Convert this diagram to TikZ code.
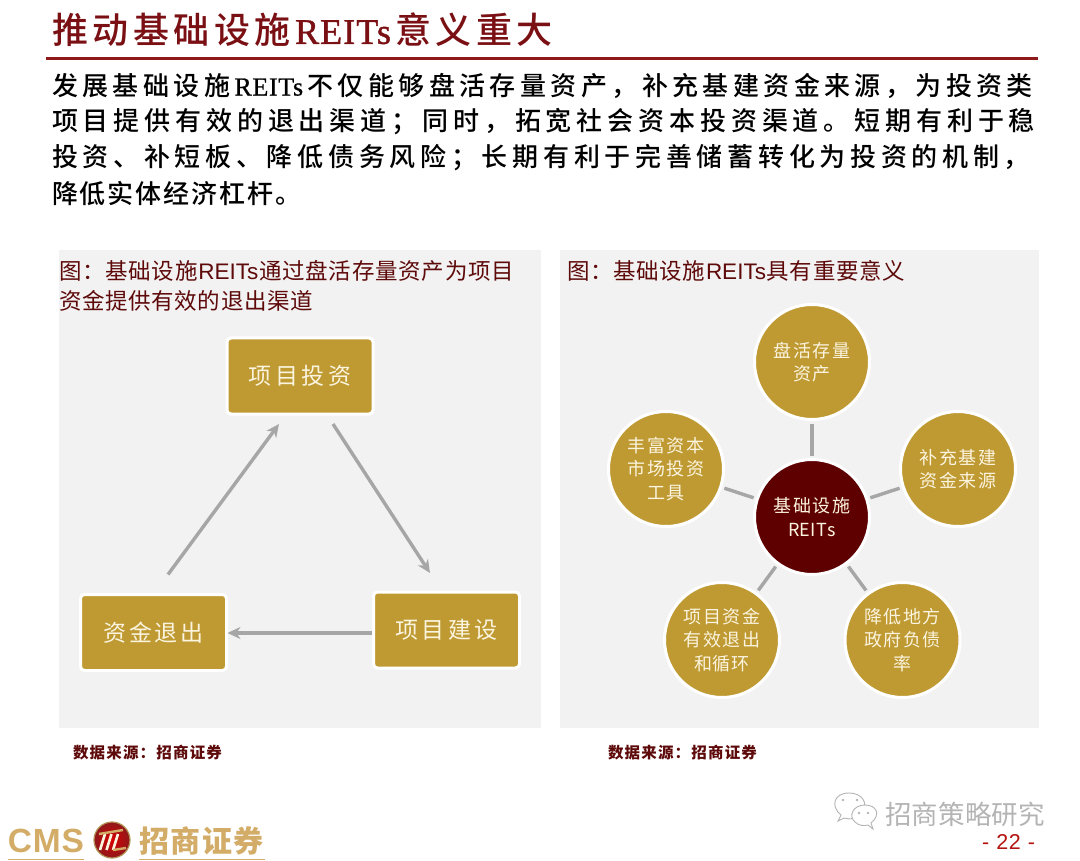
\documentclass[tikz,border=0pt]{standalone}
\usepackage{fontspec}
\usetikzlibrary{arrows.meta,shapes.geometric,calc}
\setmainfont{Liberation Sans}
\newfontfamily\cjk{Noto Sans CJK SC}
\newfontfamily\cjkm{Noto Sans CJK SC Medium}
\newfontfamily\serifLat[LetterSpace=2.5,FakeBold=0.8]{Liberation Serif}
\newfontfamily\serifLatT[LetterSpace=3,FakeBold=1.2]{Liberation Serif}
\newfontfamily\sansLat{Liberation Sans}
\let\spcstop\relax
\def\spc#1{#1\spcb}
\def\spcb#1{\ifx\spcstop#1\else\hfil#1\expandafter\spcb\fi}
\newcommand{\spread}[2]{\makebox[#1pt][s]{\spc #2\spcstop}}
\newcommand{\fs}[2]{\fontsize{#1}{#2}\selectfont}
\definecolor{gold}{HTML}{BF9A33}
\definecolor{maroon}{HTML}{5F0000}
\definecolor{titlered}{HTML}{7B1014}
\definecolor{rulered}{HTML}{8E1A1C}
\definecolor{panel}{HTML}{F2F2F2}
\definecolor{arrowgray}{HTML}{A6A6A6}
\definecolor{cream}{HTML}{FBF4DF}
\definecolor{paneltitle}{HTML}{5E0A0A}
\definecolor{logogold}{HTML}{D3AC68}
\definecolor{wm}{HTML}{B4B4B4}
\definecolor{pagered}{HTML}{B3140F}
\tikzset{
  txt/.style={inner sep=0pt,outer sep=0pt,anchor=west},
  titletxt/.style={txt,text=titlered,font={\cjkm\fs{36}{40}}},
  bodytxt/.style={txt,text=black,font={\cjkm\fs{26}{30}}},
  captxt/.style={txt,text=paneltitle,font={\cjk\fs{22.5}{26}}},
  srctxt/.style={txt,text=paneltitle,font={\cjk\bfseries\fs{15.5}{18}}},
  goldbox/.style={rectangle,rounded corners=4pt,fill=gold,draw=white,line width=3pt,
    minimum width=146pt,minimum height=76pt,inner sep=0pt,outer sep=0pt,text=cream,font={\cjk\fs{23}{26}}},
  goldcirc/.style={circle,fill=gold,draw=white,line width=3pt,minimum size=115pt,inner sep=0pt,outer sep=0pt,
    text=cream,align=center,font={\cjk\fs{18}{23.5}}},
  redcirc/.style={goldcirc,fill=maroon},
  flow/.style={draw=arrowgray,line width=3.4pt,-{Stealth[length=13pt,width=12pt]}},
  spoke/.style={draw=arrowgray,line width=3.4pt,shorten <=4pt,shorten >=4pt},
}
\begin{document}
\begin{tikzpicture}[x=1pt,y=-1pt]
\useasboundingbox (0,0) rectangle (1080,861);
\fill[white] (0,0) rectangle (1080,861);
% heading
\node[titletxt] (title) at (52,30) {\spread{501}{推动基础设施{{\serifLatT REITs}}意义重大}};
\coordinate (ruleL) at (46,59);
\coordinate (ruleR) at (1038,59);
\draw[rulered,line width=3pt] (ruleL) -- (ruleR);
\node[bodytxt] (l1) at (52,86) {\spread{981}{发展基础设施{{\serifLat REITs}}不仅能够盘活存量资产，补充基建资金来源，为投资类}};
\node[bodytxt] (l2) at (52,122) {\spread{983}{项目提供有效的退出渠道；同时，拓宽社会资本投资渠道。短期有利于稳}};
\node[bodytxt] (l3) at (52,158) {\spread{978}{投资、补短板、降低债务风险；长期有利于完善储蓄转化为投资的机制，}};
\node[bodytxt] (l4) at (52,194) {\spread{250}{降低实体经济杠杆。}};
% panels
\fill[panel] (59,250) rectangle (541,728);
\fill[panel] (560,250) rectangle (1039,728);
\node[captxt] (c1a) at (59,271) {\spread{455}{图：基础设施{{\sansLat REITs}}通过盘活存量资产为项目}};
\node[captxt] (c1b) at (59,301) {\spread{254}{资金提供有效的退出渠道}};
\node[captxt] (c2) at (567,271) {\spread{338}{图：基础设施{{\sansLat REITs}}具有重要意义}};
\node[srctxt] (s1) at (73,753) {\spread{149}{数据来源：招商证券}};
\node[srctxt] (s2) at (608,753) {\spread{149}{数据来源：招商证券}};
% left cycle
\node[goldbox] (tz) at (300,376) {\spread{103}{项目投资}};
\node[goldbox] (js) at (446.5,630) {\spread{102}{项目建设}};
\node[goldbox] (tc) at (153.5,632.5) {\spread{100}{资金退出}};
\draw[flow] ([shift={(14.5,-20)}]tc.north) -- ([shift={(-21,10)}]tz.south);
\draw[flow] ([shift={(33,10)}]tz.south) -- ([shift={(-16.5,-19)}]js.north);
\draw[flow] ([shift={(-2,3)}]js.west) -- ([shift={(1,0.5)}]tc.east);
% right hub
\node[redcirc] (hub) at (812,517) {\spread{77}{基础设施}\\\spread{48}{REITs}};
\node[goldcirc] (n1) at (812,362) {\spread{77}{盘活存量}\\\spread{37}{资产}};
\node[goldcirc] (n2) at (958,469) {\spread{77}{补充基建}\\\spread{77}{资金来源}};
\node[goldcirc] (n3) at (902.5,640) {\spread{77}{降低地方}\\\spread{77}{政府负债}\\率};
\node[goldcirc] (n4) at (722,640) {\spread{77}{项目资金}\\\spread{77}{有效退出}\\\spread{55}{和循环}};
\node[goldcirc] (n5) at (666,469) {\spread{77}{丰富资本}\\\spread{77}{市场投资}\\\spread{37}{工具}};
\foreach \n in {n1,n2,n3,n4,n5} \draw[spoke] (hub) -- (\n);
% logo
\node[txt,text=logogold,font={\sansLat\bfseries\fs{33.5}{36}}] (cms) at (8,841) {\spread{76}{CMS}};
\coordinate (u1a) at (8,859.5);
\coordinate (u1b) at (84,859.5);
\coordinate (u2a) at (139,859.5);
\coordinate (u2b) at (265,859.5);
\draw[logogold,line width=1.5pt] (u1a) -- (u1b);
\draw[logogold,line width=1.5pt] (u2a) -- (u2b);
\shade[inner color=red!85!black,outer color=rulered] (112,840) circle (18);
\draw[logogold!85!black,line width=1.2pt] (112,840) circle (18);
\foreach \dx in {0,6.5,13}
  \draw[cream,line width=2.6pt] (100+\dx,850) -- (105+\dx,834);
\draw[logogold,line width=2.4pt] (99,834) -- (123,830);
\draw[logogold,line width=2.4pt] (113,850) -- (126,848);
\node[txt,text=logogold,font={\cjk\bfseries\fs{30}{34}}] (cmsz) at (139,841) {\spread{125}{招商证券}};
% watermark
\begin{scope}[draw=wm,line width=0.9pt,fill=white]
\filldraw (838,821) -- (841,815) .. controls (830,806) and (834,793) .. (849,793) .. controls (862,793) and (869,803) .. (862,813) .. controls (857,819) and (850,820) .. (844,818) -- cycle;
\filldraw (873,829) -- (871,823) .. controls (881,815) and (877,805) .. (865,805) .. controls (853,805) and (848,816) .. (855,822) .. controls (859,826) and (864,826) .. (868,825) -- cycle;
\end{scope}
\fill[wm] (843,800) circle (1.4) (857,800) circle (1.4) (859,813) circle (1.4) (868,813) circle (1.4);
\node[txt,text=wm,font={\cjk\fs{26.5}{30}}] (wmt) at (885,814) {\spread{160}{招商策略研究}};
\node[txt,text=pagered,font={\sansLat\fs{21.5}{24}}] (page) at (982,842) {\spread{53}{-{ }{2}{2}{ }-}};
\end{tikzpicture}
\end{document}
